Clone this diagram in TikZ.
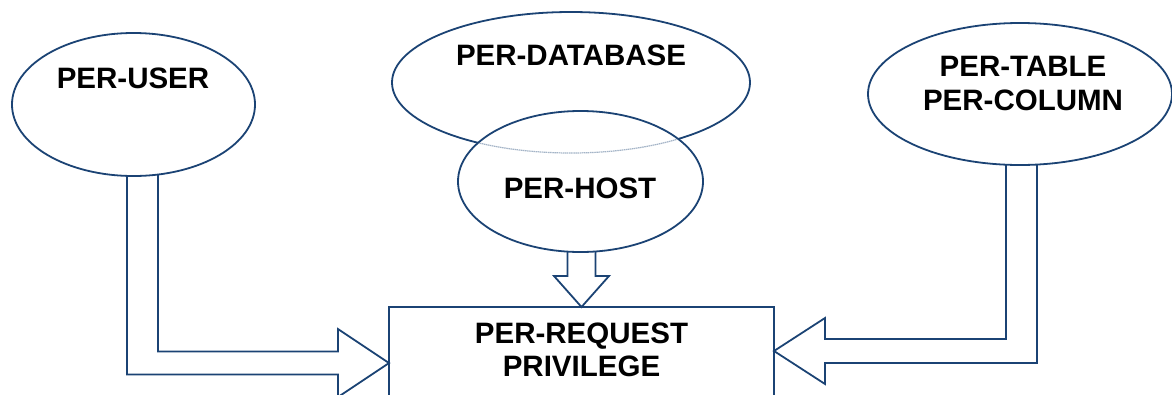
\documentclass[tikz,border=0pt]{standalone}
\usepackage{fontspec}
\setmainfont{Liberation Sans}
\usetikzlibrary{shapes.geometric,calc}
\definecolor{navy}{HTML}{1B4374}
\pgfdeclarelayer{back}
\pgfsetlayers{back,main}
\begin{document}
\begin{tikzpicture}[x=1pt,y=-1pt,
  every node/.style={inner sep=0pt,outer sep=0pt},
  oval/.style={ellipse,draw=navy,line width=1.8pt,fill=white},
  caption/.style={font=\bfseries\fontsize{29.5}{33.5}\selectfont,align=center},
  blockarrow/.style={draw=navy,line width=1.8pt,line join=miter}]
\useasboundingbox (0,0) rectangle (1172,394);
\clip (0,0) rectangle (1172,394);

% privilege sources
\node[oval,minimum width=243pt,minimum height=143pt] (user) at (133.5,104.5) {};
\node[caption] (usertext) at (133,78) {PER-USER};

\node[oval,minimum width=358pt,minimum height=141pt] (db) at (571,82.5) {};
\node[caption] (dbtext) at (571,55) {PER-DATABASE};

\node[oval,minimum width=245pt,minimum height=141pt] (host) at (580.5,181.5) {};
% the hidden lower rim of the database oval shows faintly through the host oval
\begin{scope}
  \clip (host.center) ellipse [x radius=121.3, y radius=69.3];
  \draw[navy!40,line width=1.2pt,dash pattern=on 1.5pt off 0.6pt]
    (db.center) ellipse [x radius=179, y radius=70.5];
\end{scope}
\node[caption] (hosttext) at (580,188) {PER-HOST};

\node[oval,minimum width=304pt,minimum height=142pt] (tabcol) at (1020,94) {};
\node[caption] (tabcoltext) at (1023,83.5) {PER-TABLE\\PER-COLUMN};

% target box, open at the bottom edge
\node[caption,minimum width=385pt,minimum height=86pt] (box) at (581.5,350) {PER-REQUEST\\PRIVILEGE};
\draw[navy,line width=1.8pt] ($(box.south west)+(0,30)$) |- (box.north east) -- ++(0,116);

% block arrows into the box
\begin{pgfonlayer}{back}
  \coordinate (ua) at ($(user.center)+(9,0)$);
  \coordinate (lt) at ($(box.west)+(0,13)$);
  \draw[blockarrow] ($(ua)+(-15.5,0)$) |- ($(lt)+(-51,11.5)$) -- ++(0,22.5)
    -- (lt) -- ++(-51,-34) -- ++(0,22.5) -| ($(ua)+(15.5,0)$) -- cycle;

  \coordinate (ta) at ($(tabcol.center)+(1.5,0)$);
  \coordinate (rt) at ($(box.east)+(0,1)$);
  \draw[blockarrow] ($(ta)+(15.5,0)$) |- ($(rt)+(51,12)$) -- ++(0,21)
    -- (rt) -- ++(51,-33) -- ++(0,21) -| ($(ta)+(-15.5,0)$) -- cycle;

  \coordinate (dt) at (box.north);
  \coordinate (ha) at (dt |- host.center);
  \draw[blockarrow] ($(ha)+(-14,0)$) |- ($(dt)+(-27.5,-31)$) -- (dt)
    -- ($(dt)+(27.5,-31)$) -| ($(ha)+(14,0)$) -- cycle;
\end{pgfonlayer}
\end{tikzpicture}
\end{document}
